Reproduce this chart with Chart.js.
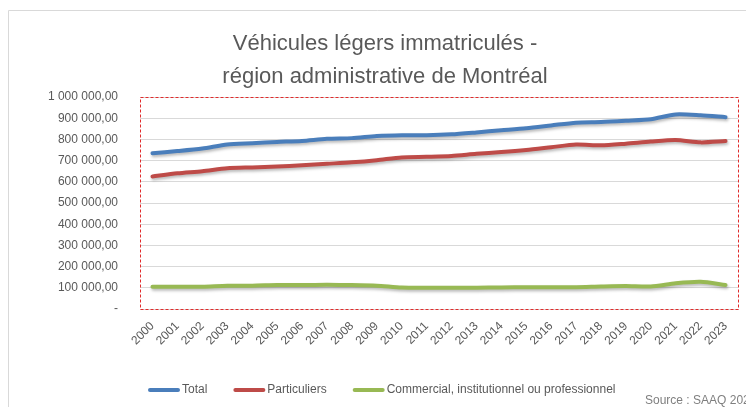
<!DOCTYPE html>
<html lang="fr">
<head>
<meta charset="utf-8">
<title>Véhicules légers immatriculés - Montréal</title>
<script src="https://cdn.jsdelivr.net/npm/chart.js@4/dist/chart.umd.min.js"></script>
<style>
  html, body { margin: 0; padding: 0; background: #fff; }
  #wrap { position: relative; width: 746px; height: 407px; }
</style>
</head>
<body>
<div id="wrap"><canvas id="chart" width="746" height="407"></canvas></div>
<script>
// Data
const years = ['2000', '2001', '2002', '2003', '2004', '2005', '2006', '2007', '2008', '2009', '2010', '2011',
               '2012', '2013', '2014', '2015', '2016', '2017', '2018', '2019', '2020', '2021', '2022', '2023'];
const totalValues = [735000, 745000, 757000, 776000, 782000, 788000, 793000, 803000, 806000, 816000, 820000, 820000,
                     824000, 833000, 843000, 853000, 866000, 879000, 882000, 888000, 895000, 918000, 914000, 905000];
const particuliersValues = [625000, 640000, 650000, 664000, 668000, 672000, 678000, 685000, 692000, 702000, 715000, 718000,
                            722000, 732000, 740000, 750000, 763000, 776000, 772000, 780000, 790000, 797000, 786000, 792000];
const commercialValues = [105000, 105000, 105000, 110000, 110000, 113000, 113000, 114000, 113000, 110000, 101000, 100000,
                          100000, 100000, 102000, 103000, 103000, 103000, 106000, 108000, 106000, 121000, 128000, 113000];
const yTickLabels = ['-', '100 000,00', '200 000,00', '300 000,00', '400 000,00', '500 000,00',
                     '600 000,00', '700 000,00', '800 000,00', '900 000,00', '1 000 000,00'];

const textColor = '#595959';
const gridColor = '#d9d9d9';
const font = 'Liberation Sans';

// red dashed frame around the plot area + outer chart border
const frame = {
    id: 'frame',
    beforeDatasetsDraw(chart) {
        const { ctx, chartArea: a } = chart;
        ctx.save();
        ctx.strokeStyle = '#e02b2b';
        ctx.lineWidth = 1;
        ctx.setLineDash([3, 2]);
        ctx.strokeRect(a.left + 0.5, a.top + 0.5, a.right - a.left, a.bottom - a.top);
        ctx.restore();
        // soft shadow under the lines
        ctx.save();
        ctx.shadowColor = 'rgba(0,0,0,0.28)';
        ctx.shadowBlur = 3;
        ctx.shadowOffsetX = 1;
        ctx.shadowOffsetY = 2;
    },
    afterDatasetsDraw(chart) {
        chart.ctx.restore();
    },
    afterDraw(chart) {
        const ctx = chart.ctx;
        ctx.save();
        ctx.strokeStyle = gridColor;
        ctx.lineWidth = 1;
        ctx.beginPath();
        ctx.moveTo(8.5, chart.height);
        ctx.lineTo(8.5, 10.5);
        ctx.lineTo(chart.width, 10.5);
        ctx.stroke();

        // legend
        ctx.font = '12px "' + font + '"';
        ctx.textBaseline = 'middle';
        let x = 148;
        const y = 390;
        chart.data.datasets.forEach(ds => {
            ctx.strokeStyle = ds.borderColor;
            ctx.lineWidth = 4;
            ctx.lineCap = 'round';
            ctx.beginPath();
            ctx.moveTo(x + 2, y);
            ctx.lineTo(x + 30, y);
            ctx.stroke();
            ctx.fillStyle = textColor;
            ctx.fillText(ds.label, x + 34, y);
            x += 34 + ctx.measureText(ds.label).width + 26;
        });

        // source
        ctx.fillStyle = '#7f7f7f';
        ctx.fillText('Source : SAAQ 2024', 645, 401);
        ctx.restore();
    }
};

const lineStyle = {
    borderWidth: 4,
    pointRadius: 0,
    pointHoverRadius: 0,
    tension: 0.25,
    fill: false,
    borderCapStyle: 'round',
    borderJoinStyle: 'round'
};

new Chart(document.getElementById('chart'), {
    type: 'line',
    data: {
        labels: years,
        datasets: [
            { label: 'Total', data: totalValues, borderColor: '#4a7ebb', ...lineStyle },
            { label: 'Particuliers', data: particuliersValues, borderColor: '#be4b48', ...lineStyle },
            { label: 'Commercial, institutionnel ou professionnel', data: commercialValues, borderColor: '#98b954', ...lineStyle }
        ]
    },
    options: {
        responsive: false,
        animation: false,
        layout: { padding: { left: 32, right: 8, top: 0, bottom: 38 } },
        plugins: {
            legend: { display: false },
            tooltip: { enabled: false },
            title: {
                display: true,
                text: ['Véhicules légers immatriculés -', 'région administrative de Montréal'],
                color: textColor,
                font: { family: font, size: 22, weight: 'normal', lineHeight: 1.5 },
                padding: { top: 27, bottom: 4 }
            }
        },
        scales: {
            x: {
                offset: true,
                grid: { display: false },
                border: { display: true, color: gridColor },
                ticks: {
                    color: textColor,
                    font: { family: font, size: 12 },
                    minRotation: 45,
                    maxRotation: 45,
                    autoSkip: false,
                    padding: 2
                },
                afterFit(scale) { scale.height = 60; }
            },
            y: {
                min: 0,
                max: 1000000,
                ticks: {
                    stepSize: 100000,
                    color: textColor,
                    font: { family: font, size: 12 },
                    padding: 22,
                    callback: (v) => yTickLabels[Math.round(v / 100000)]
                },
                grid: { color: gridColor, drawTicks: false },
                border: { display: false },
                afterFit(scale) { scale.width = 108; }
            }
        }
    },
    plugins: [frame]
});
</script>
</body>
</html>
